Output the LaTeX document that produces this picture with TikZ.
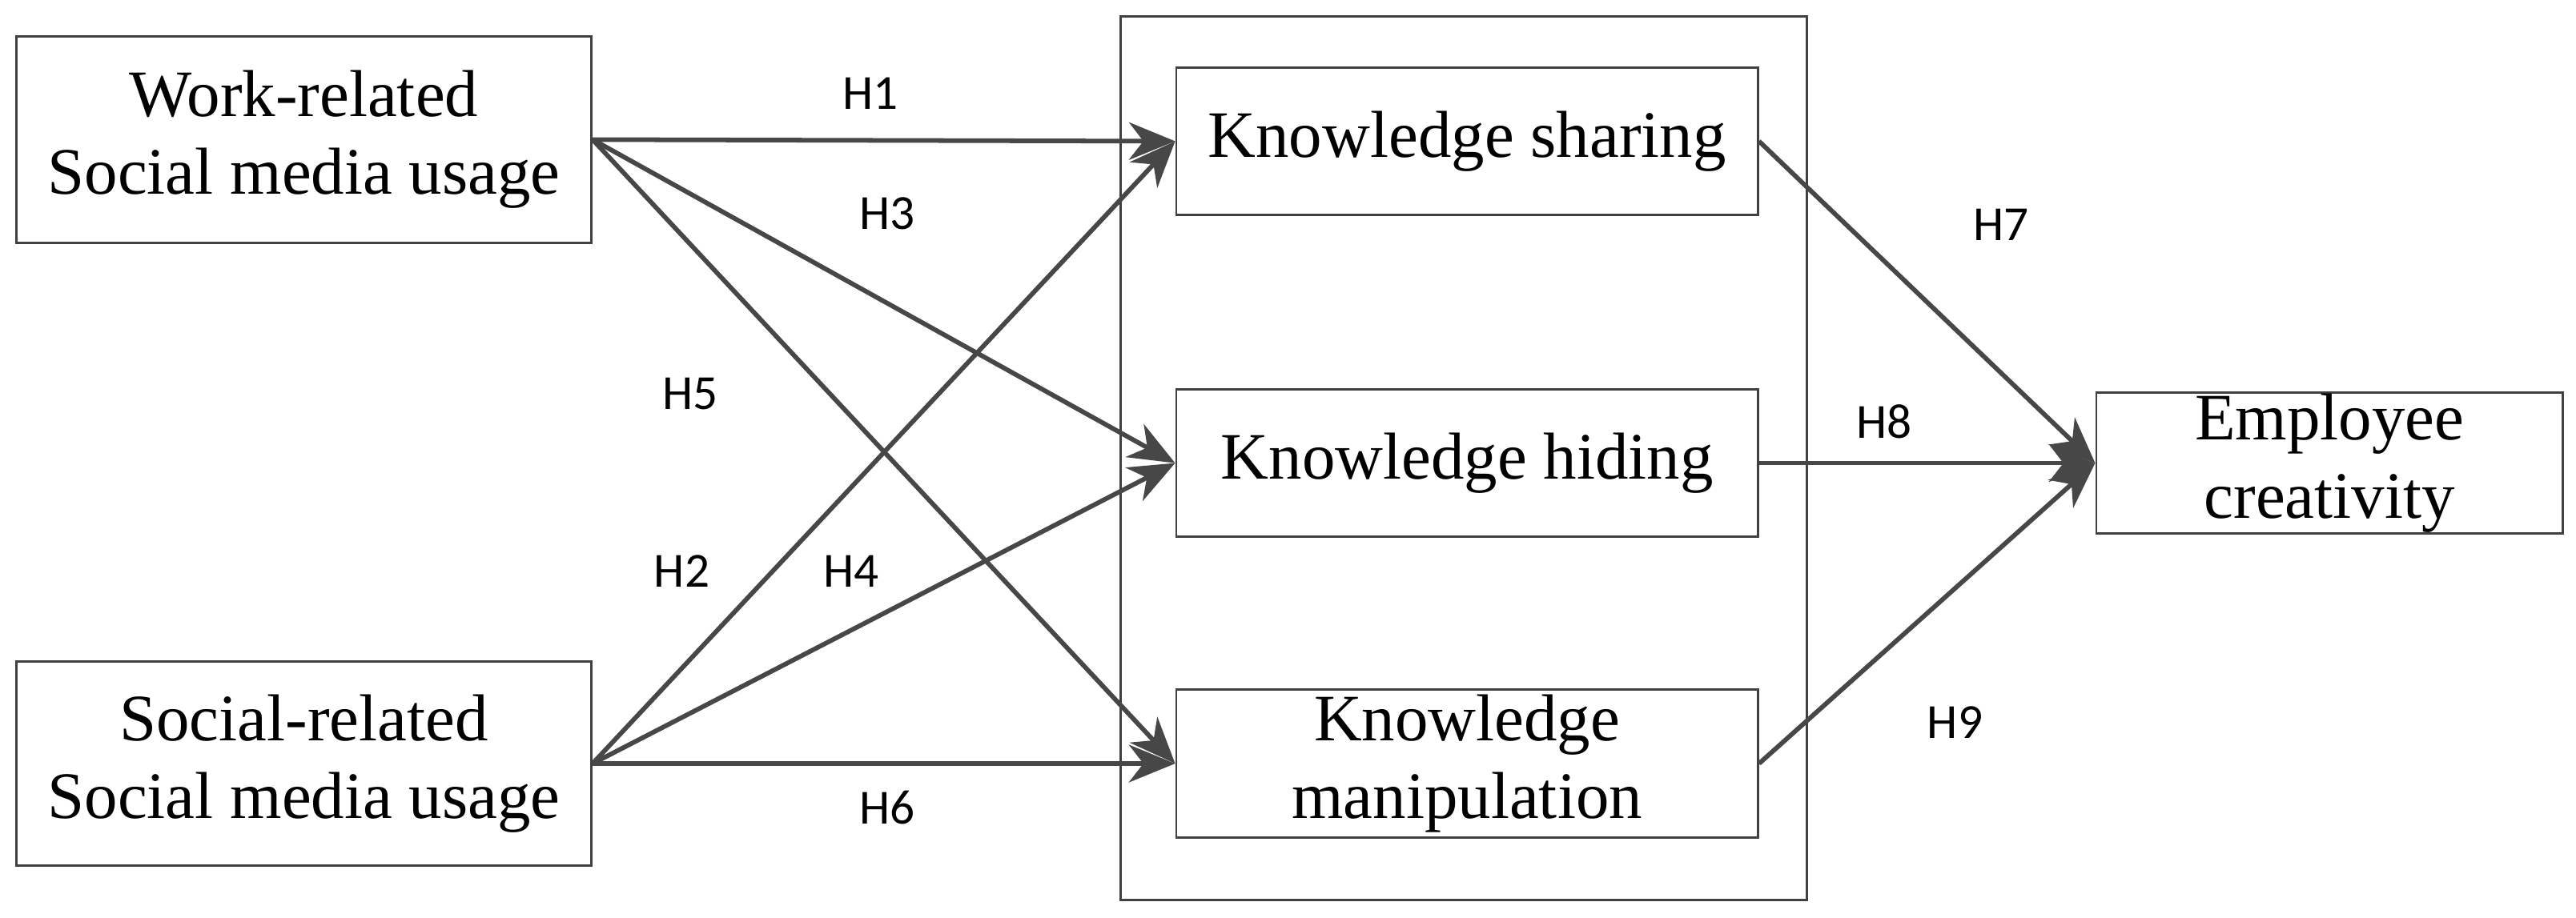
\documentclass[tikz,border=0pt]{standalone}
\usepackage{fontspec}
\setmainfont{Liberation Serif}
\newfontfamily\lblfont{Carlito}
\usetikzlibrary{arrows.meta}
\begin{document}
\begin{tikzpicture}[x=0.02cm,y=-0.02cm,
  box/.style={draw=black!75, line width=0.8pt, align=center, inner sep=0pt,
    font=\fontsize{23}{27}\selectfont},
  hyp/.style={font=\lblfont\fontsize{17}{20}\selectfont},
  arr/.style={draw=black!72, line width=1.6pt, -{Stealth[length=16pt,width=13pt,inset=5pt]}}]
\useasboundingbox (0,0) rectangle (1568,558.6);
\node[draw=black!75, line width=0.8pt, minimum width=418*0.02cm, minimum height=538*0.02cm] (frame) at (891,279) {};
\node[box, minimum width=350*0.02cm, minimum height=126*0.02cm] (wr) at (185,85) {Work-related\\Social media usage};
\node[box, minimum width=350*0.02cm, minimum height=124*0.02cm] (sr) at (185,465) {Social-related\\Social media usage};
\node[box, minimum width=354*0.02cm, minimum height=90*0.02cm] (ks) at (893,86) {Knowledge sharing};
\node[box, minimum width=354*0.02cm, minimum height=90*0.02cm] (kh) at (893,282) {Knowledge hiding};
\node[box, minimum width=354*0.02cm, minimum height=90*0.02cm] (km) at (893,465) {Knowledge\\manipulation};
\node[box, minimum width=284*0.02cm, minimum height=86*0.02cm] (ec) at (1418,282) {Employee\\creativity};
\draw[arr] (wr.east) -- (ks.west);
\draw[arr] (wr.east) -- (kh.west);
\draw[arr] (wr.east) -- (km.west);
\draw[arr] (sr.east) -- (ks.west);
\draw[arr] (sr.east) -- (kh.west);
\draw[arr] (sr.east) -- (km.west);
\draw[arr] (ks.east) -- (ec.west);
\draw[arr] (kh.east) -- (ec.west);
\draw[arr] (km.east) -- (ec.west);
\node[hyp] (h1) at (530,57) {H1};
\node[hyp] (h3) at (540,130) {H3};
\node[hyp] (h5) at (420,240) {H5};
\node[hyp] (h2) at (415,348) {H2};
\node[hyp] (h4) at (518,348) {H4};
\node[hyp] (h6) at (540,492) {H6};
\node[hyp] (h7) at (1218,137) {H7};
\node[hyp] (h8) at (1147,257) {H8};
\node[hyp] (h9) at (1190,440) {H9};
\end{tikzpicture}
\end{document}
